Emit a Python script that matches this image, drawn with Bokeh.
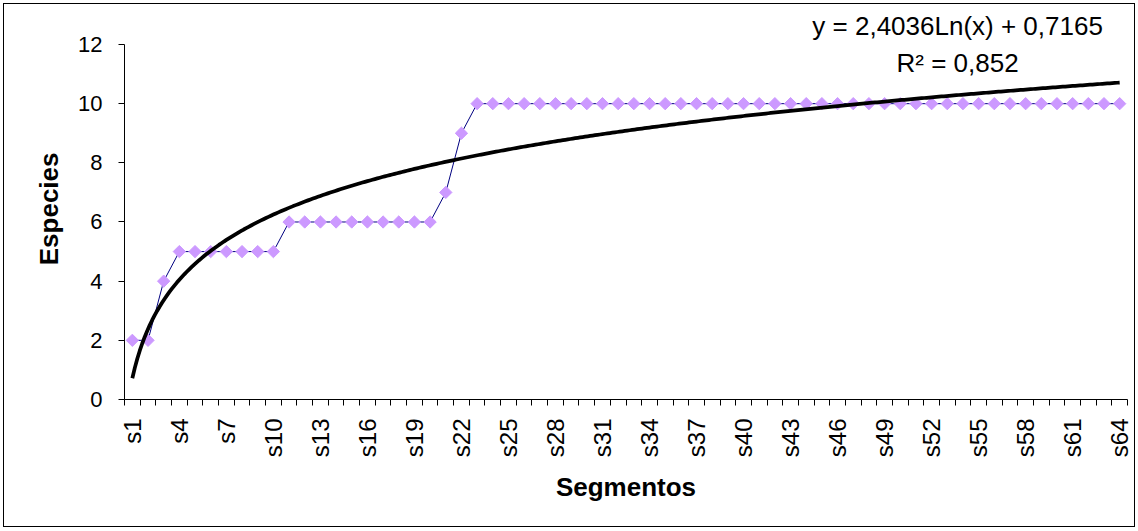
import numpy as np
from bokeh.plotting import figure
from bokeh.models import FixedTicker, Label, Range1d, Title
from bokeh.embed import file_html
from bokeh.resources import INLINE

# ---- data ----
segments = [f"s{i}" for i in range(1, 65)]
especies = [2, 2, 4, 5, 5, 5, 5, 5, 5, 5,
            6, 6, 6, 6, 6, 6, 6, 6, 6, 6,
            7, 9] + [10] * 42
y_ticks = [0, 2, 4, 6, 8, 10, 12]
trend_a = 2.4036
trend_b = 0.7165
eq_text = "y = 2,4036Ln(x) + 0,7165"
r2_text = "R\u00b2 = 0,852"

FONT = "Liberation Sans"
FS = "22px"

x = list(range(1, len(segments) + 1))
trend_x = np.linspace(1, len(segments), 400)
trend_y = trend_a * np.log(trend_x) + trend_b

Y_TOP = 13.014  # room above the axis for the trendline equation

p = figure(width=1132, height=524,
           x_range=Range1d(0.5, len(segments) + 0.5),
           y_range=Range1d(0, Y_TOP),
           output_backend="svg", toolbar_location=None,
           min_border_left=120, min_border_right=9,
           min_border_top=10, min_border_bottom=129,
           background_fill_color="white", border_fill_color="white",
           outline_line_color=None,
           margin=(3, 0, 0, 3),
           styles={"border": "1px solid black"})

p.xgrid.visible = False
p.ygrid.visible = False

# x axis
xa = p.xaxis[0]
xa.ticker = FixedTicker(ticks=list(range(1, len(segments) + 1, 3)),
                        minor_ticks=[i + 0.5 for i in range(0, len(segments) + 1)])
xa.major_label_overrides = {i + 1: segments[i] for i in range(0, len(segments), 3)}
xa.major_label_orientation = np.pi / 2
xa.major_tick_line_color = None
xa.minor_tick_line_color = "black"
xa.minor_tick_out = 6
xa.minor_tick_in = 0
xa.axis_line_color = "black"
xa.major_label_text_font = FONT
xa.major_label_text_font_size = "24px"
xa.major_label_text_color = "black"
xa.major_label_standoff = 13
xa.axis_label = "Segmentos"
xa.axis_label_text_font = FONT
xa.axis_label_text_font_size = "26px"
xa.axis_label_text_font_style = "bold"
xa.axis_label_text_color = "black"
xa.axis_label_standoff = 12

# y axis
ya = p.yaxis[0]
ya.ticker = FixedTicker(ticks=y_ticks)
ya.bounds = (0, 12)
ya.major_tick_out = 6
ya.major_tick_in = 0
ya.minor_tick_line_color = None
ya.major_tick_line_color = "black"
ya.axis_line_color = "black"
ya.major_label_text_font = FONT
ya.major_label_text_font_size = FS
ya.major_label_text_color = "black"
ya.major_label_standoff = 16

# series
p.line(x, especies, line_color="#000080", line_width=1)
p.scatter(x, especies, marker="square", angle=np.pi / 4, size=8.7,
          fill_color="#CC99FF", line_color="#CC99FF")

# trendline
p.line(trend_x, trend_y, line_color="black", line_width=3.75)

# y axis title (left title panel)
p.add_layout(Title(text="Especies", align="right", offset=138, standoff=23,
                   text_font=FONT, text_font_size="26px", text_font_style="bold",
                   text_color="black"), "left")

# trendline equation and R²
p.add_layout(Label(x=53.66, y=12.64, text=eq_text,
                   text_align="center", text_baseline="alphabetic",
                   text_font=FONT, text_font_size="26px", text_color="black"))
p.add_layout(Label(x=53.66, y=11.39, text=r2_text,
                   text_align="center", text_baseline="alphabetic",
                   text_font=FONT, text_font_size="26px", text_color="black"))

open("out.html", "w").write(file_html(p, INLINE))
